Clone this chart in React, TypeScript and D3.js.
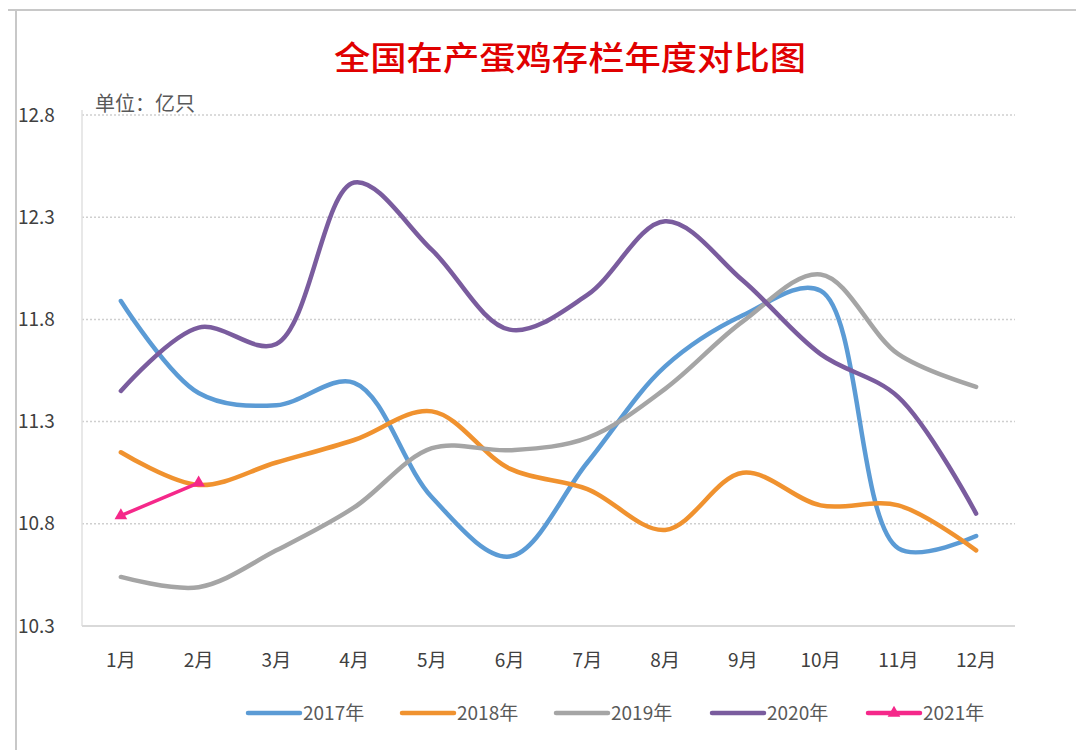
import React from "react";
import * as d3 from "d3";

const months = ["1月", "2月", "3月", "4月", "5月", "6月", "7月", "8月", "9月", "10月", "11月", "12月"];
const yTicks = [10.3, 10.8, 11.3, 11.8, 12.3, 12.8];

const v2017 = [11.89, 11.44, 11.38, 11.49, 10.93, 10.64, 11.1, 11.57, 11.82, 11.94, 10.68, 10.74];
const v2018 = [11.15, 10.99, 11.1, 11.21, 11.35, 11.07, 10.97, 10.77, 11.05, 10.89, 10.89, 10.67];
const v2019 = [10.54, 10.49, 10.67, 10.88, 11.17, 11.16, 11.22, 11.46, 11.79, 12.02, 11.63, 11.47];
const v2020 = [11.45, 11.76, 11.68, 12.47, 12.14, 11.75, 11.92, 12.28, 11.99, 11.63, 11.42, 10.85];
const v2021 = [10.84, 11.0];

const seriesNames = ["2017年", "2018年", "2019年", "2020年", "2021年"];
const seriesValues = [v2017, v2018, v2019, v2020, v2021];
const colors = ["#5B9BD5", "#F0922F", "#A5A5A5", "#7A5C9E", "#F5288A"];

const W = 1076;
const H = 750;
const left = 82;
const right = 1015;
const top = 115;
const bottom = 626;
const font = "'Noto Sans CJK SC', 'Noto Sans', sans-serif";

export default function App() {
  const x = d3.scalePoint<string>().domain(months).range([left, right]).padding(0.5);
  const y = d3.scaleLinear().domain([10.3, 12.8]).range([bottom, top]);

  // Excel-style smoothed lines
  const line = d3
    .line<number>()
    .x((_, i) => x(months[i]) as number)
    .y((d) => y(d))
    .curve(d3.curveCatmullRom.alpha(0.5));

  const tri = d3.symbol().type(d3.symbolTriangle).size(70);

  const legendX = [248, 402, 556, 712, 868];
  const legendY = 713;

  return (
    <svg width={W} height={H} style={{ position: "absolute", left: 0, top: 0 }} fontFamily={font}>
      <rect x={0} y={0} width={W} height={H} fill="#fff" />
      <line x1={8} x2={W} y1={10} y2={10} stroke="#C8C8C8" strokeWidth={2} />
      <line x1={16} x2={16} y1={10} y2={H} stroke="#C8C8C8" strokeWidth={2} />

      <text x={570} y={70} textAnchor="middle" fontSize={33} fill="#E00000" fontWeight={500}
        textLength={472} lengthAdjust="spacingAndGlyphs">
        全国在产蛋鸡存栏年度对比图
      </text>
      <text x={95} y={111} fontSize={20} fill="#595959">单位：亿只</text>

      {yTicks.map((t) => (
        <g key={t}>
          {t > 10.3 && (
            <line x1={left} x2={right} y1={y(t)} y2={y(t)} stroke="#CFCFCF" strokeWidth={1.5} strokeDasharray="2,2" />
          )}
          <text x={18} y={y(t)} dy="0.35em" fontSize={19} fill="#404040">
            {t.toFixed(1)}
          </text>
        </g>
      ))}
      <line x1={left} x2={left} y1={top - 5} y2={bottom} stroke="#E0E0E0" strokeWidth={1.5} />
      <line x1={left} x2={right} y1={bottom} y2={bottom} stroke="#D9D9D9" strokeWidth={2} />

      {months.map((m) => (
        <text key={m} x={x(m)} y={660} dy="0.35em" textAnchor="middle" fontSize={19} fill="#404040">
          {m}
        </text>
      ))}

      {seriesValues.map((vals, i) => (
        <path key={seriesNames[i]} d={line(vals) as string} fill="none" stroke={colors[i]}
          strokeWidth={i === 4 ? 3.5 : 4.5} strokeLinecap="round" />
      ))}
      {v2021.map((v, i) => (
        <path key={i} d={tri() as string} transform={`translate(${x(months[i])},${y(v)})`} fill={colors[4]} />
      ))}

      {seriesNames.map((s, i) => (
        <g key={s} transform={`translate(${legendX[i]},${legendY})`}>
          <line x1={0} x2={52} y1={0} y2={0} stroke={colors[i]} strokeWidth={4.5} strokeLinecap="round" />
          {i === 4 && <path d={tri() as string} transform="translate(26,0)" fill={colors[4]} />}
          <text x={55} y={0} dy="0.35em" fontSize={19} fill="#595959">{s}</text>
        </g>
      ))}
    </svg>
  );
}
